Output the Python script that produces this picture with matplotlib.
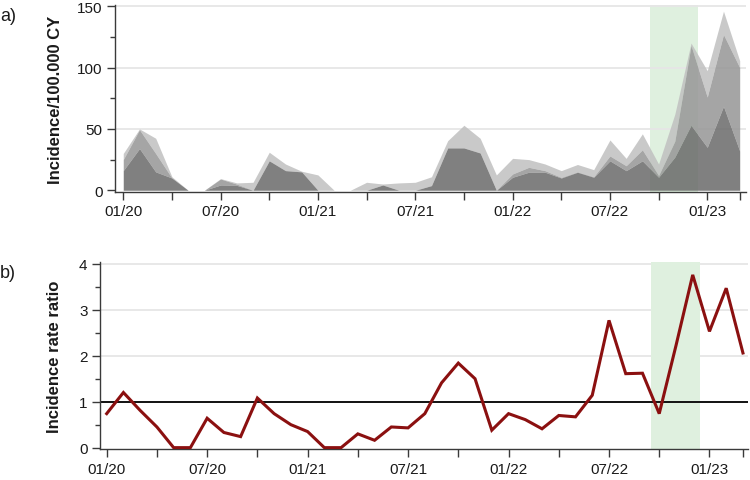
import matplotlib
matplotlib.use("Agg")
import matplotlib.pyplot as plt
import numpy as np

plt.rcParams['font.family'] = ['Liberation Sans', 'DejaVu Sans']

# ---- data ----
month_labels = ["01/20", "02/20", "03/20", "04/20", "05/20", "06/20", "07/20", "08/20", "09/20",
                "10/20", "11/20", "12/20", "01/21", "02/21", "03/21", "04/21", "05/21", "06/21",
                "07/21", "08/21", "09/21", "10/21", "11/21", "12/21", "01/22", "02/22", "03/22",
                "04/22", "05/22", "06/22", "07/22", "08/22", "09/22", "10/22", "11/22", "12/22",
                "01/23", "02/23", "03/23"]

incidence_dark = [16, 34, 15, 10, 0, 0, 4.3, 4, 0, 24, 16, 15, 0, 0, 0, 0, 4.3, 0, 0, 3.8,
                  34.5, 34.5, 30.4, 0, 10.6, 14.7, 14.7, 10, 14.7, 10.6, 24, 16, 24, 10.6,
                  27, 53, 35, 68.5, 32]
incidence_mid = [25, 49.4, 30, 10, 0, 0, 9.2, 5, 0, 24, 16, 15, 0, 0, 0, 0, 4.3, 0, 0, 3.8,
                 34.5, 34.5, 30.4, 0, 13.3, 18.7, 16, 10.5, 15, 11, 28, 20, 33, 12,
                 40, 118, 76, 127, 100]
incidence_light = [30, 50, 42.4, 11, 0, 0, 9.5, 6, 6.5, 31, 21.4, 15.5, 12.5, 0, 0, 6.5, 5.1, 6,
                   6.5, 11, 40.4, 53, 42.4, 12.5, 26, 25, 21.4, 16, 21, 16.8, 41, 26, 46, 21.4,
                   62, 120, 97.5, 146, 105.6]

rate_ratio = [0.74, 1.20, 0.81, 0.45, 0.0, 0.0, 0.64, 0.33, 0.24, 1.08, 0.74, 0.50, 0.35,
              0.0, 0.0, 0.30, 0.16, 0.45, 0.43, 0.74, 1.41, 1.84, 1.50, 0.38, 0.74, 0.61,
              0.41, 0.70, 0.67, 1.14, 2.77, 1.61, 1.62, 0.74, 2.22, 3.76, 2.53, 3.47, 2.06]

highlight_start = 32.5   # mid Sep 2022 (month index)
highlight_end = 35.45    # mid Dec 2022

x = np.arange(len(month_labels))
major_idx = [0, 6, 12, 18, 24, 30, 36]
minor_idx = [3, 9, 15, 21, 27, 33, 38]

fig = plt.figure(figsize=(7.5, 4.81), dpi=100)
ax1 = fig.add_axes([0.1533, 0.5988, 0.8414, 0.3887])
ax2 = fig.add_axes([0.1333, 0.0644, 0.864, 0.3888])

spine_col = '#3a3a3a'
grid_col = '#e6e6e6'
text_col = '#1a1a1a'

def style(ax):
    for s in ['top', 'right']:
        ax.spines[s].set_visible(False)
    for s in ['left', 'bottom']:
        ax.spines[s].set_color(spine_col)
        ax.spines[s].set_linewidth(1.0)
    ax.set_xticks([x[i] for i in major_idx])
    ax.set_xticklabels([month_labels[i] for i in major_idx])
    ax.set_xticks([x[i] for i in minor_idx], minor=True)
    ax.tick_params(axis='x', which='both', length=6, width=1, color=spine_col,
                   labelsize=11, labelcolor=text_col, pad=3)
    ax.tick_params(axis='y', which='major', length=6, width=1, color=spine_col,
                   labelsize=11, labelcolor=text_col, pad=3)
    ax.tick_params(axis='y', which='minor', length=3.5, width=1, color=spine_col)

# ---- top panel ----
fa = 0.85
ax1.axvspan(highlight_start, highlight_end, color='#dff0df', linewidth=0, zorder=1)
for v in [50, 100, 150]:
    ax1.axhline(v, color=grid_col, linewidth=1.3, zorder=1.5)
ax1.fill_between(x, incidence_mid, incidence_light, color='#c0c0c0', alpha=fa, linewidth=0, zorder=2)
ax1.fill_between(x, incidence_dark, incidence_mid, color='#969696', alpha=fa, linewidth=0, zorder=3)
ax1.fill_between(x, 0, incidence_dark, color='#6a6a6a', alpha=fa, linewidth=0, zorder=4)
ax1.set_yticks([0, 50, 100, 150])
ax1.set_yticks([25, 75, 125], minor=True)
ax1.set_xlim(-0.51, 38.39)
ax1.set_ylim(-1.4, 151)
style(ax1)
ax1.set_ylabel('Incidence/100.000 CY', fontsize=12, fontweight='bold', color=text_col, labelpad=10)

# ---- bottom panel ----
ax2.axvspan(highlight_start, highlight_end, color='#dff0df', linewidth=0, zorder=1)
for v in [2, 3, 4]:
    ax2.axhline(v, color=grid_col, linewidth=1.3, zorder=0)
ax2.axhline(1, color='#111111', linewidth=1.4, zorder=2)
ax2.plot(x, rate_ratio, color='#8b1010', linewidth=2.2, zorder=3, solid_joinstyle='miter')
ax2.set_yticks([0, 1, 2, 3, 4])
ax2.set_yticks([0.5, 1.5, 2.5, 3.5], minor=True)
ax2.set_xlim(-0.4, 38.3)
ax2.set_ylim(-0.03, 4.04)
style(ax2)
ax2.set_ylabel('Incidence rate ratio', fontsize=12, fontweight='bold', color=text_col, labelpad=12)

fig.text(0.0, 0.965, 'a)', fontsize=13, color=text_col, ha='left', va='center')
fig.text(0.0, 0.432, 'b)', fontsize=13, color=text_col, ha='left', va='center')

fig.savefig('out.png', dpi=100)
